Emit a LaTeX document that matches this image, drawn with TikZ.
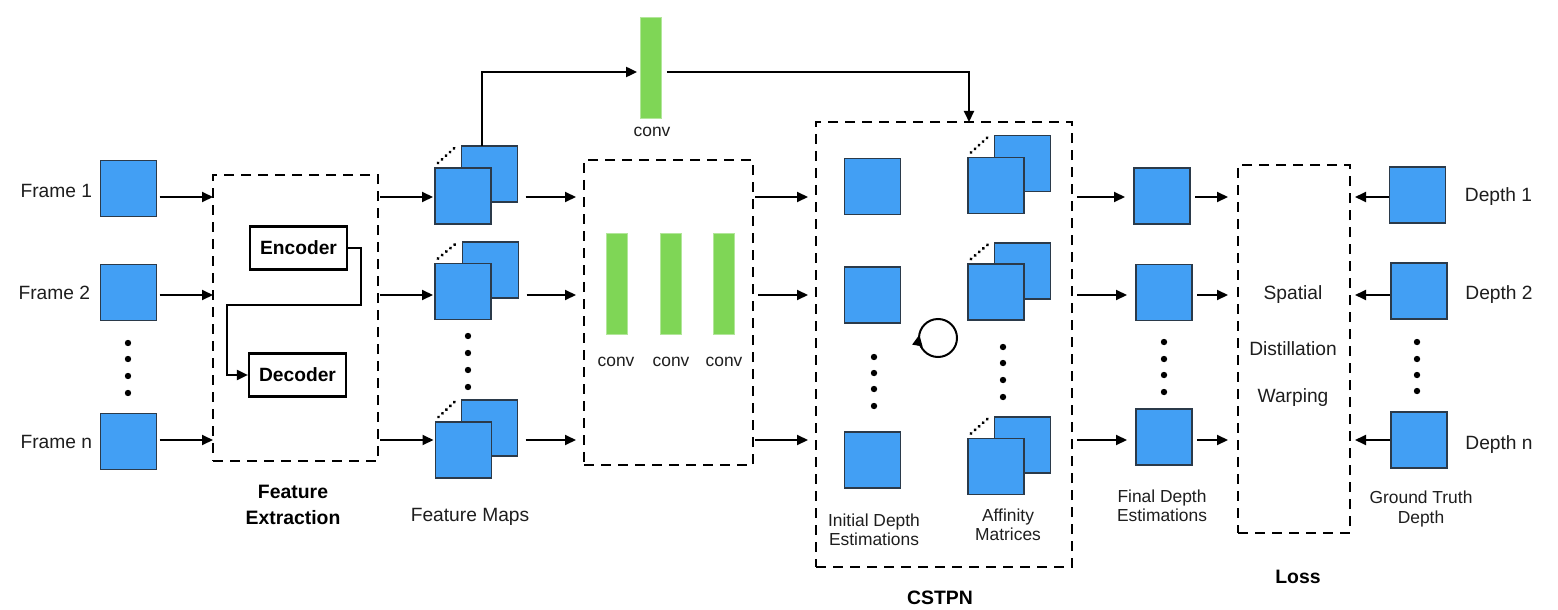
\documentclass[tikz,border=0pt]{standalone}
\usepackage{fontspec}
\setmainfont{Liberation Sans}
\usetikzlibrary{arrows.meta,calc}
\definecolor{sqblue}{HTML}{429FF4}
\definecolor{sqedge}{HTML}{2B3A4A}
\definecolor{cgreen}{HTML}{7FD656}
\definecolor{txt}{HTML}{1E1E1E}
\begin{document}
\begin{tikzpicture}[x=0.5pt,y=-0.5pt,
 sq/.style={draw=sqedge, fill=sqblue, line width=0.6pt, minimum width=28pt, minimum height=28pt, inner sep=0pt, outer sep=0pt},
 dbox/.style={draw=black, line width=1.2pt, dash pattern=on 5pt off 3.5pt, inner sep=0pt, outer sep=0pt},
 arr/.style={-{Triangle[length=5.5pt,width=5pt]}, line width=1pt},
 cbar/.style={fill=cgreen, draw=cgreen!60!white, line width=0.4pt, minimum width=10.5pt, minimum height=50.5pt, inner sep=0pt},
 ebox/.style={draw=black, line width=1.1pt, minimum width=48.5pt, minimum height=21.5pt, inner sep=0pt, font=\fontsize{9.6}{11}\selectfont\bfseries},
 lbl/.style={font=\fontsize{9.6}{11}\selectfont, text=txt, inner sep=0pt},
 sml/.style={font=\fontsize{8.7}{9.6}\selectfont, text=txt, inner sep=0pt, align=center},
 bld/.style={font=\fontsize{9.7}{13}\selectfont\bfseries, inner sep=0pt, align=center},
 dotl/.style={line width=1.7pt, line cap=round, dash pattern=on 0.01pt off 2.7pt},
 ]
\fill[white] (0,0) rectangle (1558,610);
\useasboundingbox (0,0) rectangle (1558,610);
\coordinate (r1) at (0,197);
\coordinate (r2) at (0,295);
\coordinate (r3) at (0,440);
\coordinate (top) at (0,72);

% ---------- frames ----------
\node[sq] (f1) at (128.5,188.5) {};
\node[sq] (f2) at (128.5,292.5) {};
\node[sq] (f3) at (128.5,441.5) {};
\node[lbl, anchor=east] (lf1) at ($(f1.west)+(-8,2.5)$) {Frame 1};
\node[lbl, anchor=east] (lf2) at ($(f2.west)+(-10,0.5)$) {Frame 2};
\node[lbl, anchor=east] (lf3) at ($(f3.west)+(-8,0)$) {Frame n};
\foreach \yy in {343,359,376,393} \fill (128,\yy) circle[radius=1.6pt];

% ---------- feature extraction ----------
\node[dbox, minimum width=82.5pt, minimum height=143pt] (fe) at (295.5,318) {};
\node[ebox] (enc) at (298.5,248) {Encoder};
\node[ebox] (dec) at (297.5,375) {Decoder};
\draw[arr] (enc.east) -- ++(13,0) -- ++(0,57) -- ++(-134,0) |- (dec.west);
\node[bld] (fel) at (293,505) {Feature\\Extraction};
\draw[arr] ($(f1.east|-r1)+(3,0)$) -- (fe.west|-r1);
\draw[arr] ($(f2.east|-r2)+(3,0)$) -- (fe.west|-r2);
\draw[arr] ($(f3.east|-r3)+(3,0)$) -- (fe.west|-r3);

% ---------- feature maps ----------
\node[sq] (b1) at (489.5,174) {};
\node[sq] (a1) at (463,196) {};
\draw[dotl] ($(a1.north west)+(3,-5)$) -- ($(b1.north west)+(-6,1)$);
\node[sq] (b2) at (490.5,270) {};
\node[sq] (a2) at (463,291.5) {};
\draw[dotl] ($(a2.north west)+(3,-5)$) -- ($(b2.north west)+(-6,1)$);
\node[sq] (b3) at (489.5,428) {};
\node[sq] (a3) at (463.5,450) {};
\draw[dotl] ($(a3.north west)+(3,-5)$) -- ($(b3.north west)+(-6,1)$);
\foreach \yy in {336,353,370,387} \fill (468,\yy) circle[radius=1.6pt];
\node[lbl] (fml) at (470,517) {Feature Maps};
\draw[arr] ($(fe.east|-r1)+(2,0)$) -- ($(a1.west|-r1)+(-2,0)$);
\draw[arr] ($(fe.east|-r2)+(2,0)$) -- ($(a2.west|-r2)+(-2,0)$);
\draw[arr] ($(fe.east|-r3)+(2,0)$) -- ($(a3.west|-r3)+(-2,0)$);

% ---------- conv block ----------
\node[dbox, minimum width=84.5pt, minimum height=152.5pt] (cb) at (668.5,312.5) {};
\node[cbar] (c1) at (616.5,283.5) {};
\node[cbar] (c2) at (671,283.5) {};
\node[cbar] (c3) at (723.5,283.5) {};
\node[sml] (c1l) at (616,362) {conv};
\node[sml] (c2l) at (671,362) {conv};
\node[sml] (c3l) at (724,362) {conv};
\draw[arr] ($(b1.east|-r1)+(8,0)$) -- ($(cb.west|-r1)+(-8,0)$);
\draw[arr] ($(b2.east|-r2)+(8,0)$) -- ($(cb.west|-r2)+(-8,0)$);
\draw[arr] ($(b3.east|-r3)+(8,0)$) -- ($(cb.west|-r3)+(-8,0)$);

% ---------- top conv ----------
\node[cbar] (tc) at (651,67.5) {};
\node[sml] (tcl) at (652,132) {conv};

% ---------- CSTPN ----------
\node[dbox, minimum width=128pt, minimum height=222.5pt] (cs) at (944,344.5) {};
\draw[arr] ($(b1.north west)+(20,0)$) |- ($(tc.west|-top)+(-3,0)$);
\draw[arr] ($(tc.east|-top)+(5,0)$) -| ($(cs.north west)+(153,0)$);
\node[sq] (i1) at (872.5,186.5) {};
\node[sq] (i2) at (872.5,295) {};
\node[sq] (i3) at (872.5,460) {};
\foreach \yy in {357,373,389,406} \fill (874,\yy) circle[radius=1.6pt];
\node[sq] (p1) at (1022.5,163.5) {};
\node[sq] (q1) at (996,185.5) {};
\draw[dotl] ($(q1.north west)+(3,-5)$) -- ($(p1.north west)+(-6,1)$);
\node[sq] (p2) at (1022.5,271) {};
\node[sq] (q2) at (996,292) {};
\draw[dotl] ($(q2.north west)+(3,-5)$) -- ($(p2.north west)+(-6,1)$);
\node[sq] (p3) at (1022.5,445) {};
\node[sq] (q3) at (996,466.5) {};
\draw[dotl] ($(q3.north west)+(3,-5)$) -- ($(p3.north west)+(-6,1)$);
\foreach \yy in {347,363,380,397} \fill (1003,\yy) circle[radius=1.6pt];
\begin{scope}[shift={(938,338)}, x=1pt, y=1pt]
  \draw[line width=1pt] (0,0) circle[radius=9.5pt];
  \draw[arr] (210:9.5) arc[start angle=210, end angle=170, radius=9.5];
\end{scope}
\node[sml] (idl) at (874,530) {Initial Depth\\Estimations};
\node[sml] (afl) at (1008,525) {Affinity\\Matrices};
\node[bld] (csl) at (940,598) {CSTPN};
\draw[arr] ($(cb.east|-r1)+(2,0)$) -- ($(cs.west|-r1)+(-8,0)$);
\draw[arr] ($(cb.east|-r2)+(5,0)$) -- ($(cs.west|-r2)+(-8,0)$);
\draw[arr] ($(cb.east|-r3)+(2,0)$) -- ($(cs.west|-r3)+(-8,0)$);

% ---------- final depth ----------
\node[sq] (g1) at (1162,196) {};
\node[sq] (g2) at (1164,292.5) {};
\node[sq] (g3) at (1164,437) {};
\foreach \yy in {342,359,375,392} \fill (1164,\yy) circle[radius=1.6pt];
\node[sml] (gl) at (1162,506) {Final Depth\\Estimations};
\draw[arr] ($(cs.east|-r1)+(5,0)$) -- ($(g1.west|-r1)+(-9,0)$);
\draw[arr] ($(cs.east|-r2)+(5,0)$) -- ($(g2.west|-r2)+(-9,0)$);
\draw[arr] ($(cs.east|-r3)+(5,0)$) -- ($(g3.west|-r3)+(-9,0)$);

% ---------- loss ----------
\node[dbox, minimum width=56pt, minimum height=184pt] (lb) at (1294,349) {};
\node[lbl] (ls1) at (1293,295) {Spatial};
\node[lbl] (ls2) at (1293,349) {Distillation};
\node[lbl] (ls3) at (1293,398) {Warping};
\node[bld] (lossl) at (1298,577) {Loss};
\draw[arr] ($(g1.east|-r1)+(5,0)$) -- ($(lb.west|-r1)+(-10,0)$);
\draw[arr] ($(g2.east|-r2)+(5,0)$) -- ($(lb.west|-r2)+(-10,0)$);
\draw[arr] ($(g3.east|-r3)+(5,0)$) -- ($(lb.west|-r3)+(-10,0)$);

% ---------- ground truth ----------
\node[sq] (t1) at (1417.5,195) {};
\node[sq] (t2) at (1419,291) {};
\node[sq] (t3) at (1419,440) {};
\foreach \yy in {342,359,375,391} \fill (1417,\yy) circle[radius=1.6pt];
\node[lbl, anchor=west] (dl1) at ($(t1.east)+(19,2)$) {Depth 1};
\node[lbl, anchor=west] (dl2) at ($(t2.east)+(18,4)$) {Depth 2};
\node[lbl, anchor=west] (dl3) at ($(t3.east)+(18,5)$) {Depth n};
\node[sml] (gtl) at (1421,509) {Ground Truth\\Depth};
\draw[arr] ($(t1.west|-r1)+(-1,0)$) -- ($(lb.east|-r1)+(5,0)$);
\draw[arr] ($(t2.west|-r2)+(-1,0)$) -- ($(lb.east|-r2)+(5,0)$);
\draw[arr] ($(t3.west|-r3)+(-1,0)$) -- ($(lb.east|-r3)+(5,0)$);
\end{tikzpicture}
\end{document}
